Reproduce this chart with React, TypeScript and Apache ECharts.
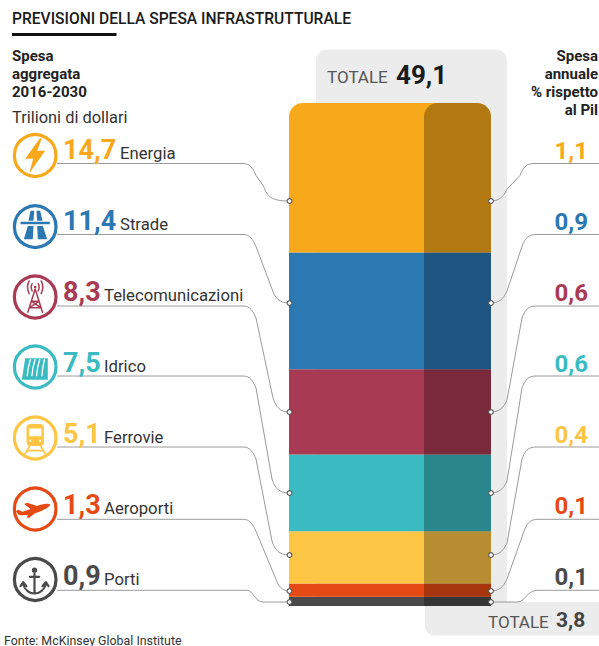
import React, { useEffect, useRef } from "react";
import * as echarts from "echarts";

const categories = ["Energia", "Strade", "Telecomunicazioni", "Idrico", "Ferrovie", "Aeroporti", "Porti"];
const aggregateSpend = [14.7, 11.4, 8.3, 7.5, 5.1, 1.3, 0.9];
const annualShare = [1.1, 0.9, 0.6, 0.6, 0.4, 0.1, 0.1];
const totalSpend = 49.1;
const totalShare = 3.8;
const colors = ["#F7A81B", "#2B78B3", "#A93A53", "#39BBC1", "#FCC544", "#E64A14", "#4A4A4A"];

const FONT = "Roboto";
const BAR_LEFT = 289;
const BAR_RIGHT = 491;
const BAR_TOP = 103;
const BAR_BOTTOM = 606;
const SPLIT_X = 424;
const rowY = [155.5, 226.7, 297, 367, 438, 509, 579.5];
const labelY = [153, 224, 295, 366, 437, 508, 579];
const lineY = [163.5, 234.5, 306, 376, 447, 519.3, 590.3];
const dotY = [201, 303, 412, 493, 555, 591, 602];
const leftEndX = [264, 272, 273, 272, 272, 275, 0];
const rightStartX = [520, 522, 522, 522, 522, 524, 0];

function leftPath(i: number) {
  const a = lineY[i];
  const b = dotY[i];
  if (i === 6) return `M57 ${a} L247 ${a} C253 ${a} 255 ${b} 263 ${b} L${BAR_LEFT} ${b}`;
  const xe = leftEndX[i];
  return `M57 ${a} L243 ${a} C250 ${a} 253 ${a + 5} 256 ${a + 12} L${xe} ${b - 14} C${xe + 3} ${b - 5} ${xe + 7} ${b} ${BAR_LEFT} ${b}`;
}
function rightPath(i: number) {
  const a = lineY[i];
  const b = dotY[i];
  if (i === 6) return `M${BAR_RIGHT} ${b} L518 ${b} C524 ${b} 528 ${a} 537 ${a} L599 ${a}`;
  const xs = rightStartX[i];
  return `M${BAR_RIGHT} ${b} C498 ${b} 503 ${b - 3} 507 ${b - 12} L${xs} ${a + 12} C${xs + 3} ${a + 4} ${xs + 6} ${a} ${xs + 14} ${a} L599 ${a}`;
}

categories.forEach((_, i) => {
  echarts.graphic.registerShape(`connL${i}`, echarts.graphic.extendPath(leftPath(i), {}) as any);
  echarts.graphic.registerShape(`connR${i}`, echarts.graphic.extendPath(rightPath(i), {}) as any);
});

// Icon glyphs, drawn in a 168x168 box centred on 84,84 and scaled by 1/3.
const iconParts: { fill?: string; stroke?: string; white?: string; lw?: number }[] = [
  { fill: "M98 32 L54 94 H78 L66 138 L114 70 H90 L104 32 Z" },
  {
    fill: "M70 36h11l-2 30H64z M88 36h11l7 30H90z M62 82h17l-2 40H50z M90 82h17l13 40H92z M40 69h88v8H40z",
  },
  {
    stroke:
      "M84 60 L62 130 M84 60 L106 130 M73 97 H95 M67 116 H101 M73 97 L101 116 M95 97 L67 116 M75 44 Q69 54 75 66 M93 44 Q99 54 93 66 M66 36 Q56 54 66 74 M102 36 Q112 54 102 74",
    fill: "M80 54a4 4 0 1 0 8 0a4 4 0 1 0 -8 0z",
    lw: 4.5,
  },
  {
    fill: "M54 58 H122 V122 H44 Z",
    white: "M70 60 Q62 85 60 112 M84 60 Q76 85 74 112 M98 60 Q90 85 88 112 M112 60 Q106 85 104 112",
    lw: 4,
  },
  {
    fill: "M70 42h28a12 12 0 0 1 12 12v42a12 12 0 0 1-12 12H70a12 12 0 0 1-12-12V54a12 12 0 0 1 12-12z",
    stroke: "M68 106 L54 132 M100 106 L114 132 M62 122 H106",
    white: "M68 58 H100 V76 H68 Z M66 92 h6 M96 92 h6",
    lw: 5,
  },
  {
    fill: "M130 72 C122 65 104 70 90 75 L60 65 L51 69 L70 84 L46 92 L34 86 L26 90 L35 102 C62 106 112 92 130 72Z M64 99 L58 110 H66 L90 92Z",
  },
  {
    stroke: "M82 66 V124 M68 76 H96 M48 98 C52 116 68 126 82 126 C96 126 112 116 116 98 M40 104 L48 92 L58 104 M106 104 L116 92 L124 104",
    fill: "M74 56a8 8 0 1 0 16 0a8 8 0 1 0 -16 0z M79 56a3 3 0 1 0 6 0a3 3 0 1 0 -6 0z",
    lw: 6.5,
  },
];
iconParts.forEach((p, i) => {
  (["fill", "stroke", "white"] as const).forEach((k) => {
    const d = p[k];
    if (d) echarts.graphic.registerShape(`icon${i}${k}`, echarts.graphic.extendPath(d, {}) as any);
  });
});

const fmt = (v: number) => v.toFixed(1).replace(".", ",");

function txt(text: string, x: number, y: number, size: number, weight: number | string, fill: string, align = "left") {
  return {
    type: "text",
    z: 20,
    x,
    y,
    style: {
      text,
      fill,
      fontFamily: FONT,
      fontSize: size,
      fontWeight: weight,
      textAlign: align,
      textVerticalAlign: "middle",
    },
  };
}

function buildGraphic() {
  const els: any[] = [];
  // grey panels
  els.push({
    type: "rect",
    z: 0,
    shape: { x: 316, y: 49.5, width: 191, height: 553, r: [11, 11, 0, 0] },
    style: { fill: "#ECECEC" },
  });
  els.push({
    type: "rect",
    z: 0,
    shape: { x: 425, y: 602, width: 174, height: 33.5, r: [0, 0, 0, 9] },
    style: { fill: "#ECECEC" },
  });
  // title
  els.push(txt("PREVISIONI DELLA SPESA INFRASTRUTTURALE", 12, 18.5, 15.6, 500, "#1a1a1a"));
  els.push({ type: "rect", z: 20, shape: { x: 12, y: 33, width: 104.5, height: 3 }, style: { fill: "#111" } });
  ["Spesa", "aggregata", "2016-2030"].forEach((t, i) => els.push(txt(t, 12, 56 + i * 18, 15, 700, "#222")));
  els.push(txt("Trilioni di dollari", 12, 117, 16.4, 400, "#333"));
  ["Spesa", "annuale", "% rispetto", "al Pil"].forEach((t, i) =>
    els.push(txt(t, 598, 56 + i * 18, 15, 700, "#222", "right")),
  );
  els.push(txt("TOTALE", 327, 77, 17, 400, "#555"));
  els.push(txt(fmt(totalSpend), 396, 75, 26, 700, "#1a1a1a"));
  els.push(txt("TOTALE", 488, 622, 17, 400, "#555"));
  els.push(txt(fmt(totalShare), 556, 620, 21, 700, "#444"));
  els.push(txt("Fonte: McKinsey Global Institute", 4, 640, 12.4, 400, "#333"));

  categories.forEach((name, i) => {
    const c = colors[i];
    const y = rowY[i];
    els.push({ type: `connL${i}`, z: 5, style: { fill: "none", stroke: "#9a9a9a", lineWidth: 1 } });
    els.push({ type: `connR${i}`, z: 5, style: { fill: "none", stroke: "#9a9a9a", lineWidth: 1 } });
    [BAR_LEFT + 0.5, BAR_RIGHT].forEach((cx) =>
      els.push({
        type: "circle",
        z: 15,
        shape: { cx, cy: dotY[i], r: 2.4 },
        style: { fill: "#fff", stroke: "#555", lineWidth: 1.1 },
      }),
    );
    els.push({
      type: "circle",
      z: 6,
      shape: { cx: 35.2, cy: y, r: 20.8 },
      style: { fill: "#fff", stroke: c, lineWidth: 3.2 },
    });
    const p = iconParts[i];
    const base = { z: 7, x: 35.2 - 28, y: y - 28, scaleX: 1 / 3, scaleY: 1 / 3 };
    if (p.fill) els.push({ ...base, type: `icon${i}fill`, style: { fill: c } });
    if (p.stroke)
      els.push({
        ...base,
        type: `icon${i}stroke`,
        style: { fill: "none", stroke: c, lineWidth: p.lw ?? 5, lineCap: "round", lineJoin: "round" },
      });
    if (p.white)
      els.push({
        ...base,
        z: 8,
        type: `icon${i}white`,
        style: { fill: i === 4 ? "#fff" : "none", stroke: "#fff", lineWidth: p.lw ?? 4 },
      });
    const value = fmt(aggregateSpend[i]);
    els.push(txt(value, 63, labelY[i] - 3, 27, 700, c));
    const labelX = i < 2 ? 120 : 104;
    els.push(txt(name, labelX, labelY[i], 16.7, 400, "#333"));
    els.push(txt(fmt(annualShare[i]), 588, labelY[i] - 2, 24, 700, c, "right"));
  });
  return els;
}

function buildOption() {
  const order = categories.map((_, i) => categories.length - 1 - i);
  const base = order.map((i) => ({
    name: categories[i],
    type: "bar",
    stack: "main",
    xAxisIndex: 0,
    yAxisIndex: 0,
    barWidth: "100%",
    silent: true,
    itemStyle: { color: colors[i], borderRadius: i === 0 ? [14, 14, 0, 0] : 0 },
    data: [aggregateSpend[i]],
  }));
  const shade = order.map((i) => ({
    name: categories[i] + " (quota annuale)",
    type: "bar",
    stack: "shade",
    xAxisIndex: 1,
    yAxisIndex: 1,
    barWidth: "100%",
    silent: true,
    z: 3,
    itemStyle: { color: "rgba(0,0,0,0.28)", borderRadius: i === 0 ? [14, 14, 0, 0] : 0 },
    data: [aggregateSpend[i]],
  }));
  const h = BAR_BOTTOM - BAR_TOP;
  return {
    animation: false,
    backgroundColor: "#fff",
    grid: [
      { left: BAR_LEFT, top: BAR_TOP, width: BAR_RIGHT - BAR_LEFT, height: h },
      { left: SPLIT_X, top: BAR_TOP, width: BAR_RIGHT - SPLIT_X, height: h },
    ],
    xAxis: [
      { type: "category", gridIndex: 0, data: ["Spesa"], show: false },
      { type: "category", gridIndex: 1, data: ["Spesa"], show: false },
    ],
    yAxis: [
      { type: "value", gridIndex: 0, min: 0, max: totalSpend, show: false },
      { type: "value", gridIndex: 1, min: 0, max: totalSpend, show: false },
    ],
    series: [...base, ...shade],
    graphic: { elements: buildGraphic() },
  };
}

export default function App() {
  const ref = useRef<HTMLDivElement>(null);
  useEffect(() => {
    document.body.style.margin = "0";
    const chart = echarts.init(ref.current!, undefined, { renderer: "svg" });
    chart.setOption(buildOption() as any);
    return () => chart.dispose();
  }, []);
  return <div ref={ref} style={{ width: 599, height: 646 }} />;
}
